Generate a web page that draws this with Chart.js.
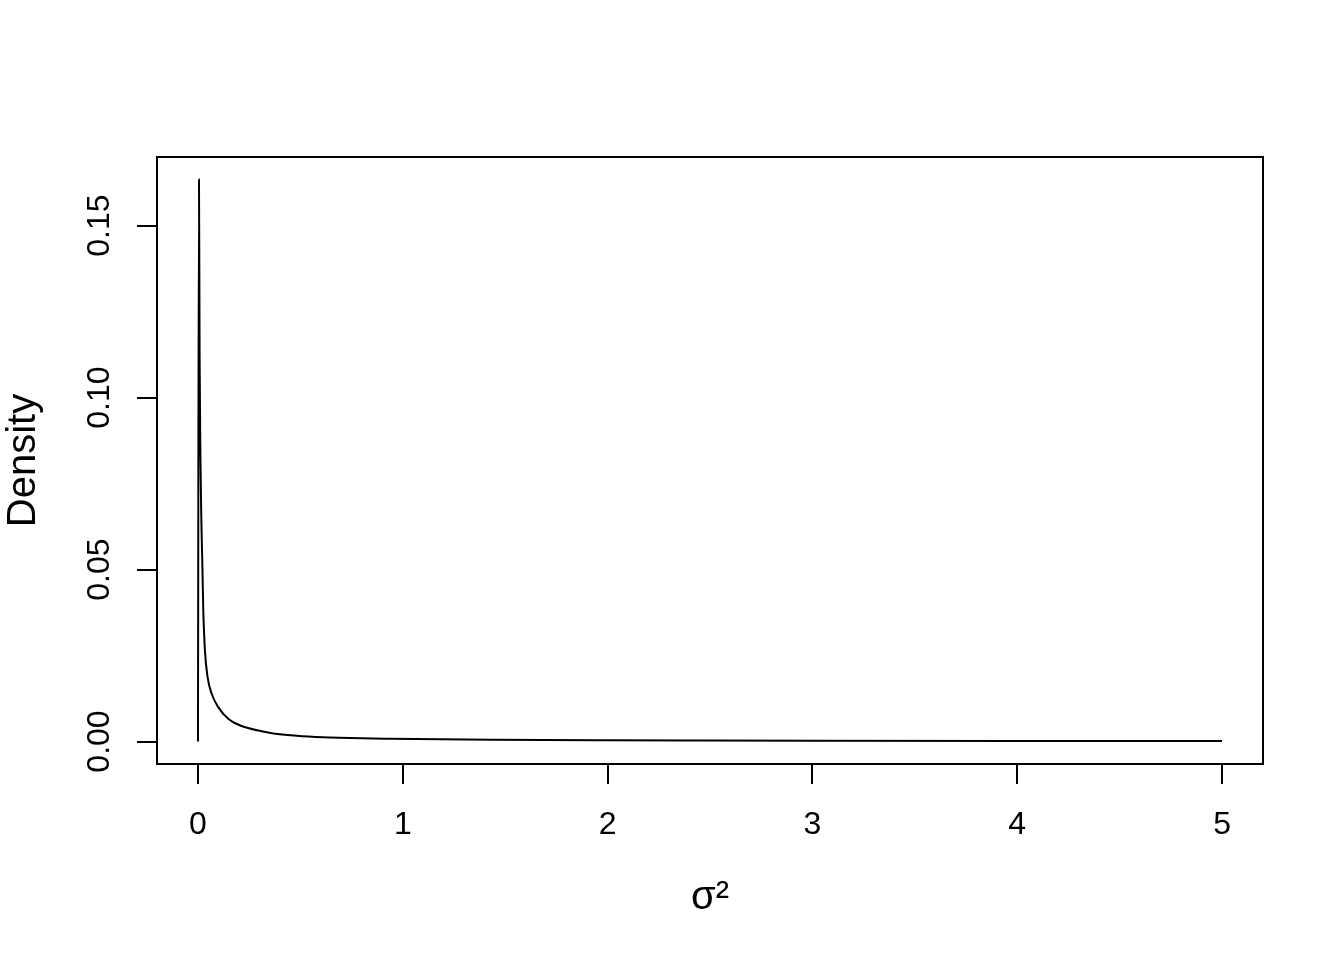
<!DOCTYPE html>
<html>
<head>
<meta charset="utf-8">
<script src="https://cdn.jsdelivr.net/npm/chart.js@4/dist/chart.umd.min.js"></script>
<style>
  html, body { margin: 0; padding: 0; background: #fff; }
  #wrap { width: 1344px; height: 960px; }
</style>
</head>
<body>
<div id="wrap"><canvas id="densityChart" width="1344" height="960"></canvas></div>
<script>
// values
const sigma2 = [0, 0.005, 0.008, 0.012, 0.016, 0.021, 0.026, 0.034, 0.047, 0.067, 0.099, 0.148, 0.213,
                0.311, 0.368, 0.48, 0.61, 0.8, 0.94, 1.43, 2.0, 2.5, 3.0, 4.0, 5.0];
const density = [0, 0.1634, 0.112, 0.083, 0.066, 0.0527, 0.0382, 0.0265, 0.0187, 0.0139, 0.0100, 0.0066, 0.0045,
                 0.0030, 0.00235, 0.0017, 0.00125, 0.00092, 0.0008, 0.0005, 0.00035, 0.00028, 0.00023, 0.00017, 0.00013];
const xTicks = [0, 1, 2, 3, 4, 5];
const yTicks = [0, 0.05, 0.10, 0.15];
const yTickLabels = ['0.00', '0.05', '0.10', '0.15'];

const FONT = '"Liberation Sans", Arial, Helvetica, sans-serif';

// R-style box around the plot region
const boxPlugin = {
    id: 'box',
    afterDraw(chart) {
        const a = chart.chartArea;
        const ctx = chart.ctx;
        ctx.save();
        ctx.strokeStyle = '#000';
        ctx.lineWidth = 2;
        ctx.strokeRect(a.left, a.top, a.right - a.left, a.bottom - a.top);
        ctx.restore();
    }
};

const points = sigma2.map((x, i) => ({ x: x, y: density[i] }));

const ctx = document.getElementById('densityChart').getContext('2d');
new Chart(ctx, {
    type: 'scatter',
    data: {
        datasets: [{
            data: points,
            showLine: true,
            borderColor: '#000',
            borderWidth: 2,
            pointRadius: 0,
            cubicInterpolationMode: 'monotone',
            fill: false
        }]
    },
    options: {
        responsive: false,
        animation: false,
        layout: { padding: { left: 0, top: 157, right: 81, bottom: 0 } },
        plugins: { legend: { display: false }, tooltip: { enabled: false } },
        scales: {
            x: {
                type: 'linear',
                min: -0.2,
                max: 5.2,
                afterBuildTicks: s => { s.ticks = xTicks.map(v => ({ value: v })); },
                afterFit: s => { s.height = 196; },
                border: { display: false },
                grid: { drawOnChartArea: false, drawTicks: true, tickLength: 20, color: '#000', lineWidth: 2 },
                ticks: {
                    color: '#000',
                    padding: 22,
                    maxRotation: 0,
                    font: { family: FONT, size: 32 },
                    callback: v => String(v)
                },
                title: {
                    display: true,
                    text: 'σ²',
                    color: '#000',
                    font: { family: FONT, size: 40 },
                    padding: { top: 0, bottom: 38 }
                }
            },
            y: {
                type: 'linear',
                min: -0.00654,
                max: 0.16994,
                afterBuildTicks: s => { s.ticks = yTicks.map(v => ({ value: v })); },
                afterFit: s => { s.width = 157; },
                border: { display: false },
                grid: { drawOnChartArea: false, drawTicks: true, tickLength: 20, color: '#000', lineWidth: 2 },
                ticks: {
                    color: '#000',
                    padding: 6,
                    minRotation: 90,
                    maxRotation: 90,
                    crossAlign: 'center',
                    font: { family: FONT, size: 32 },
                    callback: v => yTickLabels[yTicks.indexOf(v)] ?? ''
                },
                title: {
                    display: true,
                    text: 'Density',
                    color: '#000',
                    font: { family: FONT, size: 40 },
                    padding: { top: 0, bottom: 0 }
                }
            }
        }
    },
    plugins: [boxPlugin]
});
</script>
</body>
</html>
